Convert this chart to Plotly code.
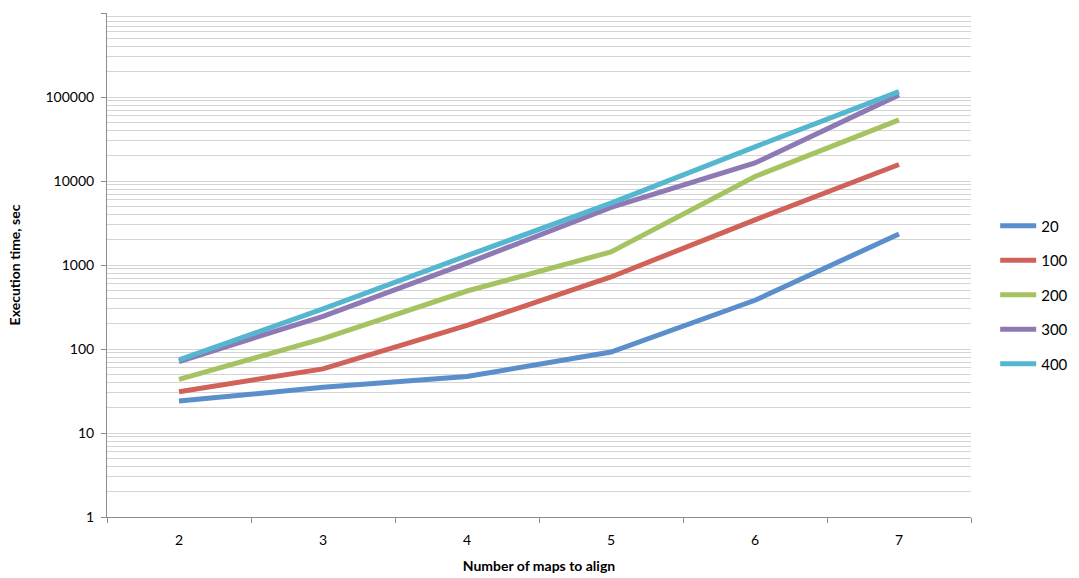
import plotly.graph_objects as go

categories = ["2", "3", "4", "5", "6", "7"]
series_names = ["20", "100", "200", "300", "400"]
s20 = [24, 35, 47, 92, 380, 2340]
s100 = [31, 58, 191, 720, 3450, 15700]
s200 = [43.5, 133, 490, 1430, 11300, 53500]
s300 = [71, 245, 1050, 4850, 16400, 106000]
s400 = [74, 300, 1290, 5450, 25500, 116000]
series_values = [s20, s100, s200, s300, s400]
colors = ["#5A8FCB", "#D0625A", "#A6C361", "#8E79B5", "#55B6D0"]

y_major = [1, 10, 100, 1000, 10000, 100000, 1000000]
y_major_text = ["1", "10", "100", "1000", "10000", "100000", ""]
y_minor = [m * 10 ** k for k in range(6) for m in range(2, 10)]

fig = go.Figure()
for name, vals, c in zip(series_names, series_values, colors):
    fig.add_trace(go.Scatter(
        x=categories, y=vals, name=name, mode="lines",
        line=dict(color=c, width=5), legendgroup=name,
    ))

fig.update_layout(
    width=1079, height=578,
    margin=dict(l=107, r=108, t=13, b=61, autoexpand=False),
    paper_bgcolor="white", plot_bgcolor="white",
    font=dict(family="Lato, 'Open Sans', sans-serif", color="#000000", size=14),
    legend=dict(
        x=1.028, y=0.61, xanchor="left", yanchor="top",
        font=dict(size=15), tracegroupgap=12, itemwidth=36,
        bgcolor="rgba(0,0,0,0)",
    ),
    showlegend=True,
)
fig.update_xaxes(
    type="category", range=[-0.5, 5.5], tickson="boundaries", ticks="outside", ticklen=5,
    tickcolor="#8C8C8C", showgrid=False, showline=True, linecolor="#8C8C8C",
    linewidth=1, tickfont=dict(size=14), ticklabelstandoff=10,
    title=dict(text="<b>Number of maps to align</b>", font=dict(size=14), standoff=14),
)
fig.update_yaxes(
    type="log", range=[0, 6], tickvals=y_major, ticktext=y_major_text,
    ticks="outside", ticklen=5, tickcolor="#8C8C8C",
    showgrid=True, gridcolor="#D4D4D4", gridwidth=1,
    showline=True, linecolor="#8C8C8C", linewidth=1, zeroline=False,
    minor=dict(tickvals=y_minor, showgrid=True, gridcolor="#D4D4D4", gridwidth=1, ticks=""),
    tickfont=dict(size=14), ticklabelstandoff=4,
    title=dict(text="<b>Execution time, sec</b>", font=dict(size=14), standoff=21),
)

fig.write_html("out.html")
